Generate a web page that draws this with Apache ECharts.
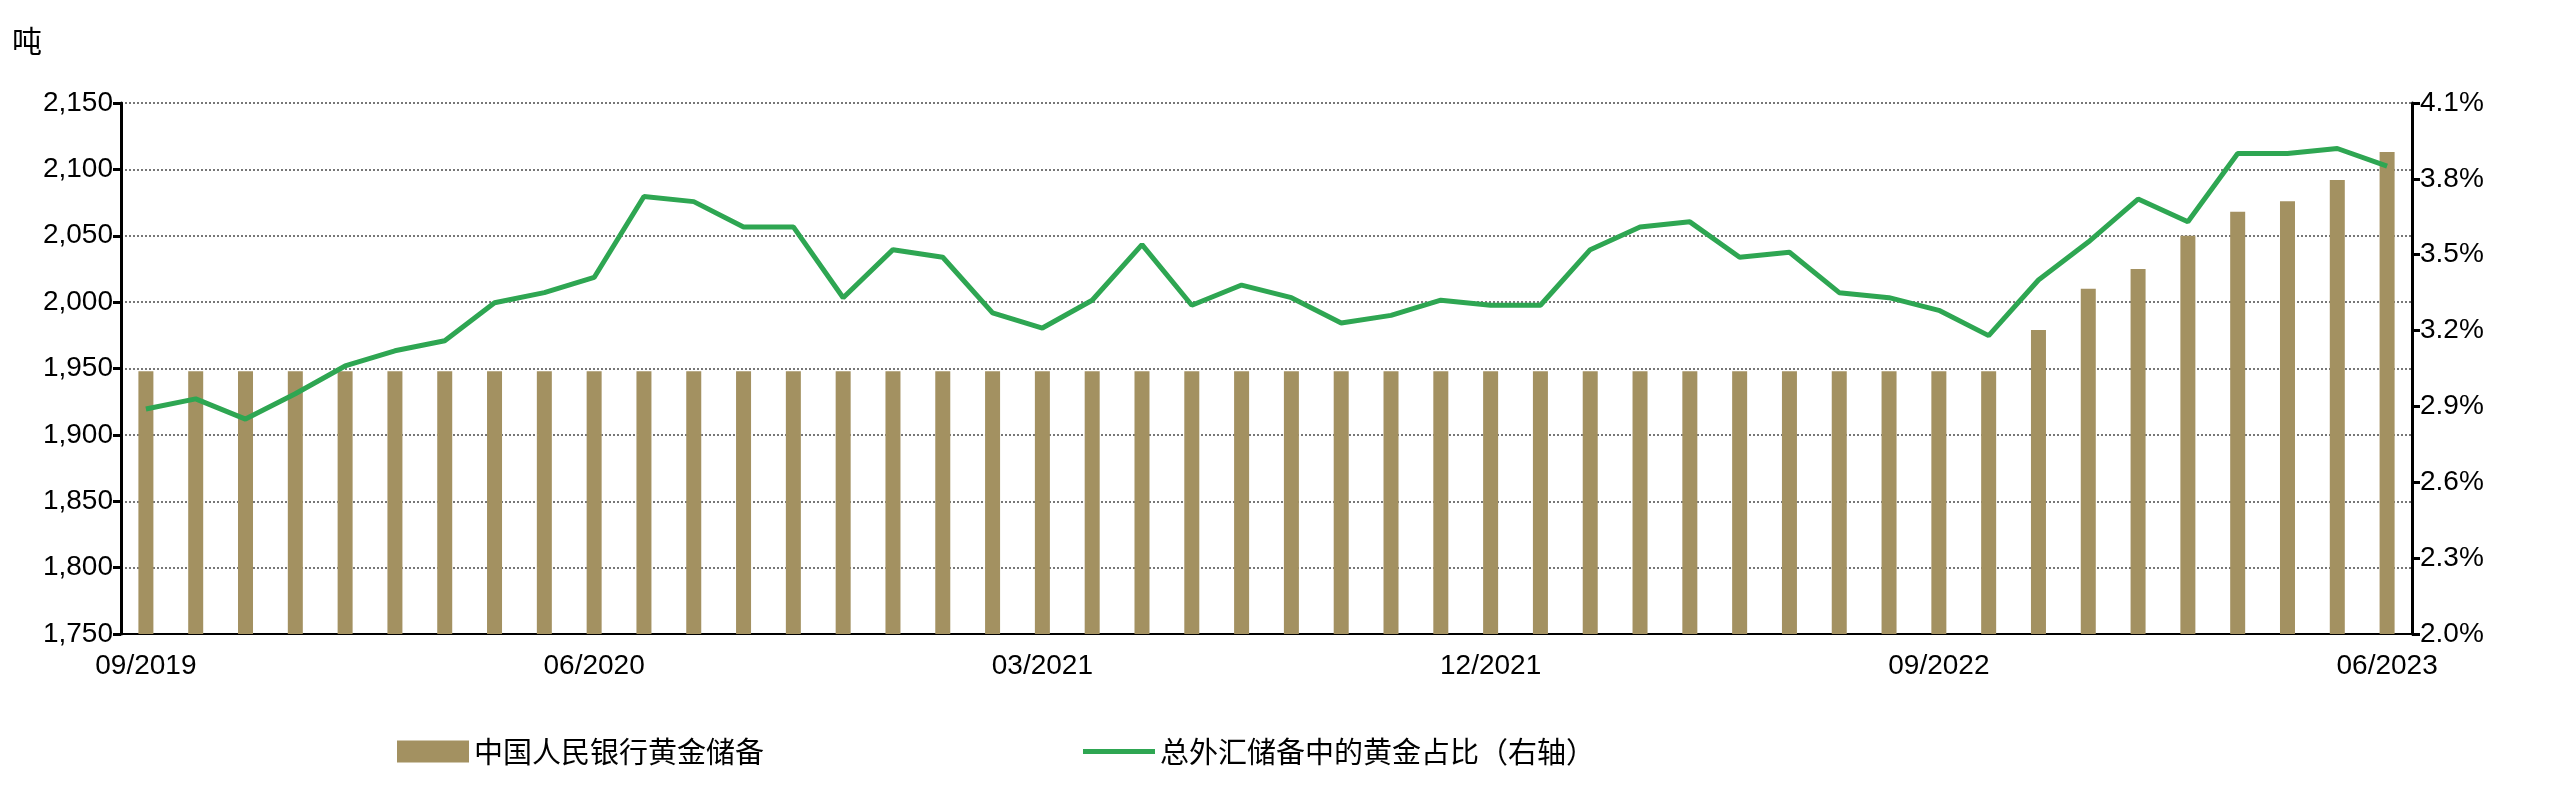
<!DOCTYPE html>
<html><head><meta charset="utf-8">
<script src="https://cdn.jsdelivr.net/npm/echarts@6/dist/echarts.min.js"></script>
<style>html,body{margin:0;padding:0;background:#fff}#c{width:2550px;height:786px}</style>
</head><body><div id="c"></div>
<script>
const categories = (function(){const a=[];let y=2019,m=9;for(let i=0;i<46;i++){a.push((m<10?'0':'')+m+'/'+y);m++;if(m>12){m=1;y++;}}return a;})();
const goldTons = [1948,1948,1948,1948,1948,1948,1948,1948,1948,1948,1948,1948,1948,1948,1948,1948,1948,1948,1948,1948,1948,1948,1948,1948,1948,1948,1948,1948,1948,1948,1948,1948,1948,1948,1948,1948,1948,1948,1979,2010,2025,2050,2068,2076,2092,2113];
const goldShare = [2.89,2.93,2.85,2.95,3.06,3.12,3.16,3.31,3.35,3.41,3.73,3.71,3.61,3.61,3.33,3.52,3.49,3.27,3.21,3.32,3.54,3.30,3.38,3.33,3.23,3.26,3.32,3.30,3.30,3.52,3.61,3.63,3.49,3.51,3.35,3.33,3.28,3.18,3.40,3.55,3.72,3.63,3.90,3.90,3.92,3.85];
const FONT='"Liberation Sans","Noto Sans CJK SC",sans-serif';
const ch=echarts.init(document.getElementById('c'));
ch.setOption({
  animation:false,
  textStyle:{fontFamily:FONT},
  grid:{left:121,right:138,top:103,bottom:152},
  graphic:[{type:'text',left:12,top:26,style:{text:'吨',fontSize:30,fill:'#000',fontFamily:'"Noto Sans CJK SC"'}}],
  legend:[
    {data:[{name:'中国人民银行黄金储备',icon:'rect'}],left:392,top:732,itemWidth:72,itemHeight:22,textStyle:{fontSize:29,color:'#000',fontFamily:'"Noto Sans CJK SC"'}},
    {data:[{name:'总外汇储备中的黄金占比（右轴）',icon:'rect'}],left:1078,top:732,itemWidth:72,itemHeight:5,textStyle:{fontSize:29,color:'#000',fontFamily:'"Noto Sans CJK SC"'}}
  ],
  xAxis:{type:'category',data:categories,boundaryGap:true,
    axisLine:{lineStyle:{color:'#000',width:2}},axisTick:{show:false},
    axisLabel:{interval:8,fontSize:28,color:'#000',margin:18}},
  yAxis:[
    {type:'value',min:1750,max:2150,interval:50,
     axisLine:{show:true,lineStyle:{color:'#000',width:3}},
     axisTick:{show:true,length:8,lineStyle:{color:'#000',width:3}},
     axisLabel:{fontSize:28,color:'#000',formatter:v=>v.toLocaleString('en-US')},
     splitLine:{lineStyle:{color:'#777',type:'dotted',width:2}}},
    {type:'value',min:2.0,max:4.1,interval:0.3,position:'right',
     axisLine:{show:true,lineStyle:{color:'#000',width:3}},
     axisTick:{show:true,length:8,lineStyle:{color:'#000',width:3}},
     axisLabel:{fontSize:28,color:'#000',formatter:v=>v.toFixed(1)+'%'},
     splitLine:{show:false}}
  ],
  series:[
    {name:'中国人民银行黄金储备',type:'bar',data:goldTons,barWidth:15,itemStyle:{color:'#A39161'}},
    {name:'总外汇储备中的黄金占比（右轴）',type:'line',yAxisIndex:1,data:goldShare,symbol:'none',
     lineStyle:{color:'#2EA652',width:5},itemStyle:{color:'#2EA652'}}
  ]
});
</script></body></html>
